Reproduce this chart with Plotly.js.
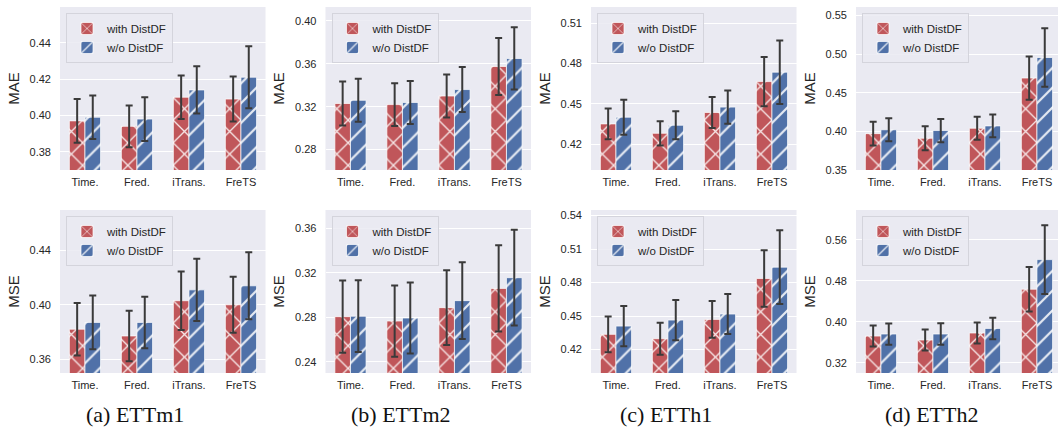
<!DOCTYPE html>
<html><head><meta charset="utf-8">
<script src="https://cdn.plot.ly/plotly-3.0.1.min.js"></script>
<style>html,body{margin:0;padding:0;background:#fff}#chart{width:1058px;height:429px}</style>
</head><body><div id="chart"></div>
<script>
// ---- data ----
const categories = ['Time.', 'Fred.', 'iTrans.', 'FreTS'];
const seriesNames = ['with DistDF', 'w/o DistDF'];
const captions = ['(a) ETTm1', '(b) ETTm2', '(c) ETTh1', '(d) ETTh2'];

const ettm1MaeWith = [0.397, 0.394, 0.410, 0.409];
const ettm1MaeWithErr = [0.012, 0.0115, 0.012, 0.0124];
const ettm1MaeWo = [0.399, 0.398, 0.414, 0.421];
const ettm1MaeWoErr = [0.012, 0.012, 0.013, 0.017];

const ettm2MaeWith = [0.323, 0.322, 0.330, 0.3575];
const ettm2MaeWithErr = [0.0205, 0.020, 0.020, 0.0265];
const ettm2MaeWo = [0.326, 0.324, 0.336, 0.365];
const ettm2MaeWoErr = [0.020, 0.020, 0.021, 0.029];

const etth1MaeWith = [0.435, 0.428, 0.4435, 0.4665];
const etth1MaeWithErr = [0.0114, 0.009, 0.0115, 0.0183];
const etth1MaeWo = [0.440, 0.434, 0.4475, 0.4735];
const etth1MaeWoErr = [0.013, 0.0105, 0.0124, 0.0236];

const etth2MaeWith = [0.397, 0.391, 0.404, 0.469];
const etth2MaeWithErr = [0.0154, 0.0155, 0.015, 0.028];
const etth2MaeWo = [0.402, 0.401, 0.407, 0.4956];
const etth2MaeWoErr = [0.015, 0.015, 0.0148, 0.038];

const ettm1MseWith = [0.382, 0.377, 0.403, 0.400];
const ettm1MseWithErr = [0.0194, 0.0186, 0.0216, 0.0206];
const ettm1MseWo = [0.387, 0.387, 0.411, 0.414];
const ettm1MseWoErr = [0.0198, 0.019, 0.023, 0.0247];

const ettm2MseWith = [0.2806, 0.2767, 0.2887, 0.306];
const ettm2MseWithErr = [0.0325, 0.032, 0.0336, 0.0387];
const ettm2MseWo = [0.281, 0.2794, 0.295, 0.3156];
const ettm2MseWoErr = [0.0322, 0.0319, 0.0345, 0.043];

const etth1MseWith = [0.4336, 0.4297, 0.447, 0.4837];
const etth1MseWithErr = [0.0161, 0.0143, 0.0165, 0.0253];
const etth1MseWo = [0.441, 0.4464, 0.4518, 0.4938];
const etth1MseWoErr = [0.018, 0.018, 0.0179, 0.033];

const etth2MseWith = [0.372, 0.3642, 0.378, 0.4636];
const etth2MseWithErr = [0.0205, 0.0205, 0.0205, 0.0435];
const etth2MseWo = [0.376, 0.376, 0.387, 0.5215];
const etth2MseWoErr = [0.0208, 0.021, 0.021, 0.067];

// ---- panels ----
const panels = [
  {metric: 'MAE', w: ettm1MaeWith, we: ettm1MaeWithErr, o: ettm1MaeWo, oe: ettm1MaeWoErr, yr: [0.370, 0.4596], dt: 0.02},
  {metric: 'MAE', w: ettm2MaeWith, we: ettm2MaeWithErr, o: ettm2MaeWo, oe: ettm2MaeWoErr, yr: [0.261, 0.413], dt: 0.04},
  {metric: 'MAE', w: etth1MaeWith, we: etth1MaeWithErr, o: etth1MaeWo, oe: etth1MaeWoErr, yr: [0.4007, 0.522], dt: 0.03},
  {metric: 'MAE', w: etth2MaeWith, we: etth2MaeWithErr, o: etth2MaeWo, oe: etth2MaeWoErr, yr: [0.3499, 0.561], dt: 0.05},
  {metric: 'MSE', w: ettm1MseWith, we: ettm1MseWithErr, o: ettm1MseWo, oe: ettm1MseWoErr, yr: [0.3497, 0.4699], dt: 0.04},
  {metric: 'MSE', w: ettm2MseWith, we: ettm2MseWithErr, o: ettm2MseWo, oe: ettm2MseWoErr, yr: [0.230, 0.3764], dt: 0.04},
  {metric: 'MSE', w: etth1MseWith, we: etth1MseWithErr, o: etth1MseWo, oe: etth1MseWoErr, yr: [0.399, 0.545], dt: 0.03},
  {metric: 'MSE', w: etth2MseWith, we: etth2MseWithErr, o: etth2MseWo, oe: etth2MseWoErr, yr: [0.2998, 0.6185], dt: 0.08}
];

const W = 1058, H = 429;
const colLeft = [60, 325.5, 591, 856];
const panelW = 205.5;
const rowTop = [7, 210];
const panelH = 163;
const pxPerUnit = 52;
const xMin = -0.48;

const RED = '#c0565a', BLUE = '#5071a8';
const FONT = '"Liberation Sans", Arial, sans-serif';
const TXT = '#262626';

const traces = [];
const layout = {
  width: W, height: H,
  margin: {l: 0, r: 0, t: 0, b: 0},
  paper_bgcolor: '#ffffff',
  plot_bgcolor: '#eaeaf2',
  barmode: 'group',
  bargap: 0.4,
  bargroupgap: 0,
  font: {family: FONT, color: TXT, size: 11},
  annotations: []
};

panels.forEach((p, i) => {
  const row = i < 4 ? 0 : 1;
  const col = i % 4;
  const n = i + 1;
  const xa = 'x' + (n === 1 ? '' : n);
  const ya = 'y' + (n === 1 ? '' : n);
  const lg = 'legend' + (n === 1 ? '' : n);
  const left = colLeft[col];
  const right = Math.min(left + panelW, W);
  const top = rowTop[row];
  const bottom = top + panelH;
  const errStyle = {type: 'data', visible: true, color: '#3a3a3a', thickness: 2, width: 3.5};
  traces.push({
    type: 'bar', x: categories, y: p.w, name: seriesNames[0],
    xaxis: xa, yaxis: ya, legend: lg,
    marker: {color: RED, line: {color: 'rgba(255,255,255,0.7)', width: 1},
      pattern: {shape: 'x', fillmode: 'overlay', fgcolor: '#ffffff', fgopacity: 0.85, size: 16, solidity: 0.16}},
    error_y: Object.assign({array: p.we}, errStyle)
  });
  traces.push({
    type: 'bar', x: categories, y: p.o, name: seriesNames[1],
    xaxis: xa, yaxis: ya, legend: lg,
    marker: {color: BLUE, line: {color: 'rgba(255,255,255,0.7)', width: 1},
      pattern: {shape: '/', fillmode: 'overlay', fgcolor: '#ffffff', fgopacity: 0.85, size: 14, solidity: 0.16}},
    error_y: Object.assign({array: p.oe}, errStyle)
  });
  const xKey = 'xaxis' + (n === 1 ? '' : n);
  const yKey = 'yaxis' + (n === 1 ? '' : n);
  layout[xKey] = {
    domain: [left / W, right / W],
    anchor: ya,
    type: 'category',
    range: [xMin, xMin + (right - left) / pxPerUnit],
    showgrid: false, zeroline: false, showline: false,
    ticks: '', ticklabelstandoff: 4,
    tickfont: {family: FONT, size: 11, color: TXT},
    fixedrange: true
  };
  layout[yKey] = {
    domain: [1 - bottom / H, 1 - top / H],
    anchor: xa,
    range: p.yr,
    dtick: p.dt, tick0: 0,
    tickformat: '.2f',
    showgrid: true, gridcolor: '#ffffff', gridwidth: 1,
    zeroline: false, showline: false,
    ticks: '', ticklabelstandoff: 8,
    tickfont: {family: FONT, size: 11, color: TXT},
    title: {text: p.metric, font: {family: FONT, size: 15, color: TXT}, standoff: 6},
    fixedrange: true
  };
  layout[lg] = {
    x: (left + 6) / W, y: 1 - (top + 6) / H,
    xanchor: 'left', yanchor: 'top',
    bgcolor: 'rgba(234,234,242,0.85)',
    bordercolor: '#d4d4dc', borderwidth: 1,
    font: {family: FONT, size: 11.5, color: TXT},
    tracegroupgap: 0, itemwidth: 30
  };
});

captions.forEach((c, i) => {
  layout.annotations.push({
    text: c, xref: 'paper', yref: 'paper',
    x: (colLeft[i] + 75) / W, y: 1 - 414 / H,
    xanchor: 'center', yanchor: 'middle', showarrow: false,
    font: {family: '"Liberation Serif", "Times New Roman", serif', size: 22, color: '#111111'}
  });
});

Plotly.newPlot('chart', traces, layout, {displayModeBar: false, staticPlot: true});
</script>
</body></html>
